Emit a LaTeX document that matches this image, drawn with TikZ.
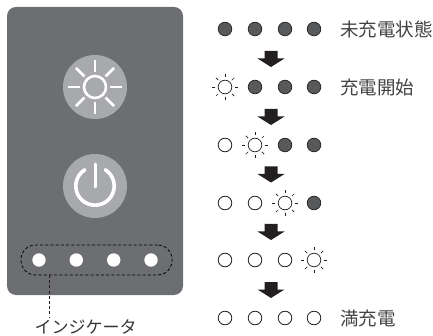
\documentclass[tikz,border=0pt]{standalone}
\usepackage{fontspec}
\newfontfamily\jpfont{Noto Sans CJK JP}
\definecolor{panelc}{HTML}{6D6E71}
\definecolor{btnc}{HTML}{A7A9AC}
\definecolor{offc}{HTML}{58595B}
\definecolor{linec}{HTML}{231F20}
\tikzset{
  ledoff/.style={circle,draw=linec,line width=0.7pt,fill=offc,minimum size=13.6pt,inner sep=0pt},
  ledon/.style={circle,draw=linec,line width=0.8pt,fill=white,minimum size=13.6pt,inner sep=0pt},
  ledlit/.style={circle,draw=linec,line width=0.7pt,fill=white,minimum size=13.6pt,inner sep=0pt},
  paneled/.style={circle,fill=white,minimum size=13.4pt,inner sep=0pt},
  btn/.style={circle,fill=btnc,minimum size=64pt,inner sep=0pt},
  raysmall/.style={draw=linec,line width=0.7pt},
  raybig/.style={draw=white,line width=2.6pt},
  downarrow/.style={fill=linec,draw=none},
  lbl/.style={font=\jpfont\fontsize{18.5}{19}\selectfont,text=linec!85,inner sep=0pt,anchor=west},
  lblsmall/.style={font=\jpfont\fontsize{17}{17}\selectfont,text=linec!90,inner sep=0pt},
  indic/.style={draw=linec,line width=0.8pt,dash pattern=on 3pt off 2.2pt}
}
\newcommand{\sunrays}[2]{%
  \foreach \a in {0,45,...,315}{\draw[raysmall] ($(#1)+(\a:9.6)$) -- ($(#1)+(\a:#2)$);}}
\usetikzlibrary{calc}
\begin{document}
\begin{tikzpicture}[x=1pt,y=-1pt]
\useasboundingbox (0,0) rectangle (433,336);
% panel
\fill[panelc,rounded corners=9pt] (7,7) rectangle (183,295);
% sun button
\node[btn] (sunbtn) at (95,87) {};
\draw[white,line width=2.6pt] (sunbtn.center) circle (11);
\foreach \a in {0,45,...,315}{\draw[raybig] ($(sunbtn.center)+(\a:15)$) -- ($(sunbtn.center)+(\a:27)$);}
% power button
\node[btn] (powbtn) at (95,186) {};
\draw[white,line width=3.6pt,line cap=round] ($(powbtn.center)+(-58:19.2)$) arc (-58:238:19.2);
\draw[white,line width=3pt,line cap=round] ($(powbtn.center)+(0,-22)$) -- ($(powbtn.center)+(0,1)$);
% panel LEDs
\foreach \n/\x in {a/39,b/76.3,c/113.7,d/151}{\node[paneled] (p\n) at (\x,260) {};}
\node[draw=black,line width=0.8pt,dash pattern=on 3pt off 2.2pt,rounded corners=14.5pt,minimum width=151pt,minimum height=30pt,inner sep=0pt] (group) at (96.5,260) {};
\node[lblsmall] (indlabel) at (85.5,327) {インジケータ};
\coordinate (groupdrop) at (49,275);
\coordinate (labeltop) at (49,318);
\draw[indic] (groupdrop) -- (labeltop);
% state rows
\foreach \row/\y/\sa/\sb/\sc/\sd in {
  1/29/ledoff/ledoff/ledoff/ledoff,
  2/87/sun/ledoff/ledoff/ledoff,
  3/145/ledon/sun/ledoff/ledoff,
  4/203/ledon/ledon/sun/ledoff,
  5/260/ledon/ledon/ledon/sun,
  6/318/ledon/ledon/ledon/ledon}{
  \foreach \col/\x/\s in {1/225/\sa,2/255/\sb,3/285/\sc,4/314/\sd}{
    \edef\st{\s}
    \def\sunname{sun}
    \ifx\st\sunname
      \node[ledlit] (r\row c\col) at (\x,\y) {};
      \sunrays{r\row c\col.center}{13}
    \else
      \node[\st] (r\row c\col) at (\x,\y) {};
    \fi
  }
}
% arrows
\foreach \y in {51,109,166.5,224,282}{
  \fill[downarrow] (264.5,\y) -- (277.5,\y) -- (277.5,\y+7.5) -- (284.5,\y+7.5) -- (271,\y+16) -- (257.5,\y+7.5) -- (264.5,\y+7.5) -- cycle;
}
% labels
\node[lbl] (t1) at (340,29) {未充電状態};
\node[lbl] (t2) at (340,87) {充電開始};
\node[lbl] (t3) at (340,318) {満充電};
\end{tikzpicture}
\end{document}
